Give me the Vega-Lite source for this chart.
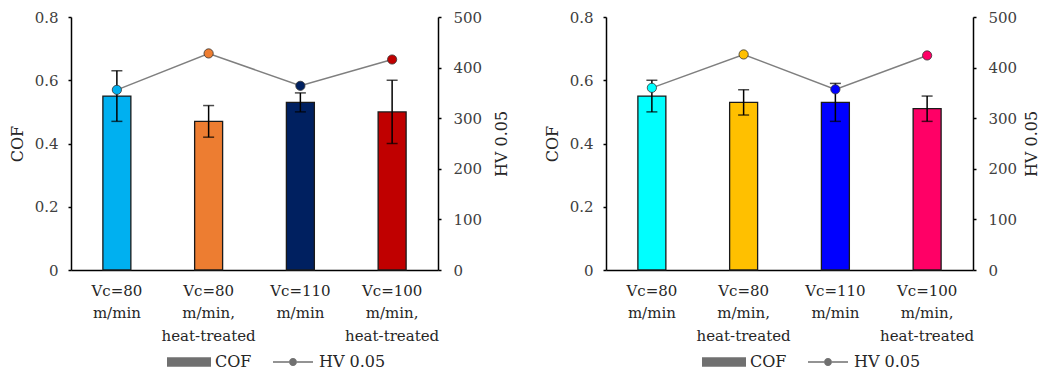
{
  "$schema": "https://vega.github.io/schema/vega-lite/v6.json",
  "background": "white",
  "padding": {"left": 9, "top": 10, "right": 0, "bottom": 0},
  "spacing": 34,
  "config": {
    "font": "DejaVu Serif",
    "view": {"stroke": null},
    "axis": {"grid": false, "labelFont": "DejaVu Serif", "titleFont": "DejaVu Serif", "labelFontSize": 15, "titleFontSize": 16, "titleFontWeight": "normal", "labelColor": "#404040", "titleColor": "#262626", "domainColor": "#000000", "domainWidth": 1.5, "tickColor": "#000000", "tickWidth": 1.5},
    "legend": {"labelFont": "DejaVu Serif"}
  },
  "resolve": {"scale": {"fill": "independent", "shape": "independent", "x": "independent", "y": "independent"}, "legend": {"shape": "independent"}},
  "hconcat": [
    {
      "width": 367,
      "height": 253,
      "data": {"values": [
        {"cond": "Vc=80 m/min", "cof": 0.55, "lo": 0.47, "hi": 0.63, "hv": 356},
        {"cond": "Vc=80 m/min, heat-treated", "cof": 0.47, "lo": 0.42, "hi": 0.52, "hv": 428},
        {"cond": "Vc=110 m/min", "cof": 0.53, "lo": 0.50, "hi": 0.56, "hv": 364},
        {"cond": "Vc=100 m/min, heat-treated", "cof": 0.50, "lo": 0.40, "hi": 0.60, "hv": 416}
      ]},
      "encoding": {
        "x": {"field": "cond", "type": "nominal", "sort": null, "title": null,
          "scale": {"paddingInner": 0, "paddingOuter": 0},
          "axis": {"ticks": false, "labelAngle": 0, "labelFont": "DejaVu Serif", "labelFontSize": 15, "labelExpr": "split(datum.label, ' ')", "labelLineHeight": 22.5, "labelPadding": 20, "labelColor": "#262626", "labelBaseline": "middle"}}
      },
      "layer": [
        {
          "layer": [
            {
              "mark": {"type": "bar", "width": {"band": 0.305}, "stroke": "#1a1a1a", "strokeWidth": 1.3},
              "encoding": {
                "y": {"field": "cof", "type": "quantitative", "title": "COF", "scale": {"domain": [0, 0.8], "nice": false},
                  "axis": {"values": [0, 0.2, 0.4, 0.6, 0.8], "labelFont": "DejaVu Serif", "labelExpr": "datum.value == 0 ? '0' : format(datum.value, '.1f')", "tickSize": 3, "labelPadding": 10, "titlePadding": 9}},
                "fill": {"field": "cond", "type": "nominal", "legend": null,
                  "scale": {"domain": ["Vc=80 m/min", "Vc=80 m/min, heat-treated", "Vc=110 m/min", "Vc=100 m/min, heat-treated"], "range": ["#00B0F0", "#ED7D31", "#002060", "#C00000"]}}
              }
            },
            {
              "mark": {"type": "errorbar", "ticks": {"size": 11, "thickness": 1.5, "color": "#000000"}, "rule": {"strokeWidth": 1.5, "color": "#000000"}},
              "encoding": {
                "y": {"field": "lo", "type": "quantitative", "title": "COF"},
                "y2": {"field": "hi"}
              }
            }
          ]
        },
        {
          "layer": [
            {
              "mark": {"type": "line", "color": "#7f7f7f", "strokeWidth": 1.5},
              "encoding": {
                "y": {"field": "hv", "type": "quantitative", "title": "HV 0.05", "scale": {"domain": [0, 500], "nice": false},
                  "axis": {"orient": "right", "values": [0, 100, 200, 300, 400, 500], "labelFont": "DejaVu Serif", "tickSize": 3, "labelPadding": 12, "titlePadding": 12, "titleAngle": -90, "titleBaseline": "top"}}
              }
            },
            {
              "mark": {"type": "point", "filled": true, "size": 85, "opacity": 1, "stroke": "#333333", "strokeWidth": 0.8},
              "encoding": {
                "y": {"field": "hv", "type": "quantitative", "title": "HV 0.05"},
                "fill": {"field": "cond", "type": "nominal", "legend": null}
              }
            },
            {
              "data": {"values": []},
              "mark": {"type": "point", "filled": true, "fill": "#707070", "stroke": "#262626", "strokeWidth": 1.2, "opacity": 1},
              "encoding": {
                "shape": {"field": "series", "type": "nominal",
                  "scale": {"domain": ["COF", "HV 0.05"], "range": ["M-1,-0.22L1,-0.22L1,0.22L-1,0.22Z", "M-0.91,-0.035L-0.18,-0.035L-0.18,0.035L-0.91,0.035Z M0.18,-0.035L0.91,-0.035L0.91,0.035L0.18,0.035Z M0.18,0A0.18,0.18 0 1,1 -0.18,0A0.18,0.18 0 1,1 0.18,0Z"]},
                  "legend": {"orient": "none", "legendX": 95, "legendY": 322, "direction": "horizontal", "title": null, "padding": 0, "symbolSize": 1936, "symbolStrokeWidth": 1.2, "symbolFillColor": "#707070", "symbolStrokeColor": "#262626", "labelFont": "DejaVu Serif", "labelFontSize": 16, "labelColor": "#262626", "labelOffset": 3, "columnPadding": 18}}
              }
            }
          ]
        }
      ],
      "resolve": {"scale": {"y": "independent"}}
    },
    {
      "width": 367,
      "height": 253,
      "data": {"values": [
        {"cond": "Vc=80 m/min", "cof": 0.55, "lo": 0.50, "hi": 0.60, "hv": 360},
        {"cond": "Vc=80 m/min, heat-treated", "cof": 0.53, "lo": 0.49, "hi": 0.57, "hv": 426},
        {"cond": "Vc=110 m/min", "cof": 0.53, "lo": 0.47, "hi": 0.59, "hv": 357},
        {"cond": "Vc=100 m/min, heat-treated", "cof": 0.51, "lo": 0.47, "hi": 0.55, "hv": 424}
      ]},
      "encoding": {
        "x": {"field": "cond", "type": "nominal", "sort": null, "title": null,
          "scale": {"paddingInner": 0, "paddingOuter": 0},
          "axis": {"ticks": false, "labelAngle": 0, "labelFont": "DejaVu Serif", "labelFontSize": 15, "labelExpr": "split(datum.label, ' ')", "labelLineHeight": 22.5, "labelPadding": 20, "labelColor": "#262626", "labelBaseline": "middle"}}
      },
      "layer": [
        {
          "layer": [
            {
              "mark": {"type": "bar", "width": {"band": 0.305}, "stroke": "#1a1a1a", "strokeWidth": 1.3},
              "encoding": {
                "y": {"field": "cof", "type": "quantitative", "title": "COF", "scale": {"domain": [0, 0.8], "nice": false},
                  "axis": {"values": [0, 0.2, 0.4, 0.6, 0.8], "labelFont": "DejaVu Serif", "labelExpr": "datum.value == 0 ? '0' : format(datum.value, '.1f')", "tickSize": 3, "labelPadding": 10, "titlePadding": 9}},
                "fill": {"field": "cond", "type": "nominal", "legend": null,
                  "scale": {"domain": ["Vc=80 m/min", "Vc=80 m/min, heat-treated", "Vc=110 m/min", "Vc=100 m/min, heat-treated"], "range": ["#00FFFF", "#FFC000", "#0000FF", "#FF0066"]}}
              }
            },
            {
              "mark": {"type": "errorbar", "ticks": {"size": 11, "thickness": 1.5, "color": "#000000"}, "rule": {"strokeWidth": 1.5, "color": "#000000"}},
              "encoding": {
                "y": {"field": "lo", "type": "quantitative", "title": "COF"},
                "y2": {"field": "hi"}
              }
            }
          ]
        },
        {
          "layer": [
            {
              "mark": {"type": "line", "color": "#7f7f7f", "strokeWidth": 1.5},
              "encoding": {
                "y": {"field": "hv", "type": "quantitative", "title": "HV 0.05", "scale": {"domain": [0, 500], "nice": false},
                  "axis": {"orient": "right", "values": [0, 100, 200, 300, 400, 500], "labelFont": "DejaVu Serif", "tickSize": 3, "labelPadding": 12, "titlePadding": 7, "titleAngle": -90, "titleBaseline": "top"}}
              }
            },
            {
              "mark": {"type": "point", "filled": true, "size": 85, "opacity": 1, "stroke": "#333333", "strokeWidth": 0.8},
              "encoding": {
                "y": {"field": "hv", "type": "quantitative", "title": "HV 0.05"},
                "fill": {"field": "cond", "type": "nominal", "legend": null}
              }
            },
            {
              "data": {"values": []},
              "mark": {"type": "point", "filled": true, "fill": "#707070", "stroke": "#262626", "strokeWidth": 1.2, "opacity": 1},
              "encoding": {
                "shape": {"field": "series", "type": "nominal",
                  "scale": {"domain": ["COF", "HV 0.05"], "range": ["M-1,-0.22L1,-0.22L1,0.22L-1,0.22Z", "M-0.91,-0.035L-0.18,-0.035L-0.18,0.035L-0.91,0.035Z M0.18,-0.035L0.91,-0.035L0.91,0.035L0.18,0.035Z M0.18,0A0.18,0.18 0 1,1 -0.18,0A0.18,0.18 0 1,1 0.18,0Z"]},
                  "legend": {"orient": "none", "legendX": 95, "legendY": 322, "direction": "horizontal", "title": null, "padding": 0, "symbolSize": 1936, "symbolStrokeWidth": 1.2, "symbolFillColor": "#707070", "symbolStrokeColor": "#262626", "labelFont": "DejaVu Serif", "labelFontSize": 16, "labelColor": "#262626", "labelOffset": 3, "columnPadding": 18}}
              }
            }
          ]
        }
      ],
      "resolve": {"scale": {"y": "independent"}}
    }
  ]
}
